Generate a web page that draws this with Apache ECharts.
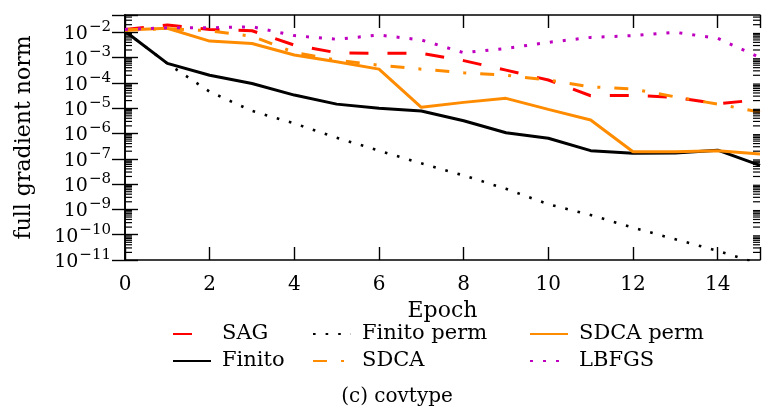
<!DOCTYPE html>
<html>
<head>
<meta charset="utf-8">
<script src="https://cdn.jsdelivr.net/npm/echarts@6/dist/echarts.min.js"></script>
<style>
  html, body { margin: 0; padding: 0; background: #fff; }
  #chart { width: 763px; height: 412px; }
</style>
</head>
<body>
<div id="chart"></div>
<script>
// Epochs on the x axis
const epochs = [0, 1, 2, 3, 4, 5, 6, 7, 8, 9, 10, 11, 12, 13, 14, 15];

// Full gradient norm per epoch for each method
const sag        = [0.013, 0.0195, 0.013, 0.0115, 3.1e-3, 1.56e-3, 1.47e-3, 1.47e-3, 7.6e-4, 3.2e-4, 1.3e-4, 3.1e-5, 3.2e-5, 2.7e-5, 1.48e-5, 2.2e-5];
const finito     = [0.011, 5.9e-4, 2.0e-4, 9.5e-5, 3.3e-5, 1.45e-5, 1.0e-5, 7.8e-6, 3.2e-6, 1.07e-6, 6.5e-7, 2.1e-7, 1.65e-7, 1.7e-7, 2.2e-7, 5.5e-8];
const finitoPerm = [0.011, 5.9e-4, 4.5e-5, 7.8e-6, 2.5e-6, 6.8e-7, 2.1e-7, 6.6e-8, 2.2e-8, 6.5e-9, 1.6e-9, 6.0e-10, 1.9e-10, 6.6e-11, 2.3e-11, 7e-12];
const sdca       = [0.012, 0.014, 0.0115, 7e-3, 1.6e-3, 8e-4, 5e-4, 3.5e-4, 2.5e-4, 2e-4, 1.3e-4, 7e-5, 5.7e-5, 2.8e-5, 1.45e-5, 7e-6];
const sdcaPerm   = [0.0123, 0.0144, 4.5e-3, 3.6e-3, 1.27e-3, 6.9e-4, 3.5e-4, 1.08e-5, 1.7e-5, 2.45e-5, 9e-6, 3.4e-6, 1.9e-7, 1.9e-7, 2.1e-7, 1.55e-7];
const lbfgs      = [0.013, 0.015, 0.015, 0.0166, 7.4e-3, 5.3e-3, 7.8e-3, 5e-3, 1.56e-3, 2.3e-3, 4e-3, 6.3e-3, 7.4e-3, 1e-2, 5.8e-3, 1e-3];

// Axis ranges and tick labels
const xMin = 0, xMax = 15, xStep = 2;
const yMin = 1e-11, yMax = 0.0483;
const legendCol1 = ['SAG', 'Finito'];
const legendCol2 = ['Finito perm', 'SDCA'];
const legendCol3 = ['SDCA perm', 'LBFGS'];
const caption = '(c) covtype';

const FONT = 'DejaVu Serif';
const ORANGE = '#ff8c00';
const MAGENTA = '#bf00bf';

const pairs = arr => arr.map((v, i) => [epochs[i], v]);

// log-axis minor tick positions (2..9 within each decade)
const minorTicks = [];
for (let e = -12; e <= -1; e++) {
  for (let k = 2; k <= 9; k++) {
    const v = k * Math.pow(10, e);
    if (v > yMin && v < yMax) minorTicks.push([0, v]);
  }
}

const chart = echarts.init(document.getElementById('chart'), null, { renderer: 'canvas' });

const axisLine = { show: true, lineStyle: { color: '#000', width: 1.6 } };
const majorTick = { show: true, inside: true, length: 13, lineStyle: { color: '#000', width: 1.4 } };

function yLabel(v) {
  const e = Math.log10(v);
  const r = Math.round(e);
  if (Math.abs(e - r) > 1e-6) return '';
  return '{b|10}{s|\u2212' + (-r) + '}';
}

const legendBase = {
  orient: 'vertical',
  top: 321,
  padding: 0,
  itemGap: 1,
  itemWidth: 38,
  itemHeight: 14,
  itemStyle: { color: 'rgba(0,0,0,0)', opacity: 0, borderWidth: 0 },
  textStyle: { fontFamily: FONT, fontSize: 21, color: '#000', lineHeight: 26, padding: [0, 0, 0, 6] }
};

function lineSeries(name, data, color, type, width) {
  return {
    name: name,
    type: 'line',
    data: pairs(data),
    symbol: 'none',
    showSymbol: false,
    xAxisIndex: 0,
    yAxisIndex: 0,
    lineStyle: { color: color, width: width, type: type, cap: 'butt' },
    itemStyle: { color: color },
    emphasis: { disabled: true },
    z: 2
  };
}

const option = {
  animation: false,
  backgroundColor: '#fff',
  grid: { left: 125, top: 15, width: 644, height: 245, containLabel: false },
  xAxis: [
    {
      type: 'value', min: xMin, max: xMax, interval: xStep, position: 'bottom',
      axisLine: axisLine, axisTick: majorTick, splitLine: { show: false },
      axisLabel: { fontFamily: FONT, fontSize: 20, color: '#000', margin: 15,
        formatter: v => (v % xStep === 0 ? String(v) : '') },
      name: 'Epoch', nameLocation: 'middle', nameGap: 31,
      nameTextStyle: { fontFamily: FONT, fontSize: 22, color: '#000' }
    },
    {
      type: 'value', min: xMin, max: xMax, interval: xStep, position: 'top',
      axisLine: axisLine, axisTick: majorTick, splitLine: { show: false },
      axisLabel: { show: false }
    }
  ],
  yAxis: [
    {
      type: 'log', logBase: 10, min: yMin, max: yMax, splitNumber: 10, position: 'left',
      axisLine: axisLine, axisTick: majorTick, splitLine: { show: false },
      minorTick: { show: false },
      axisLabel: {
        margin: 14, formatter: yLabel, color: '#000',
        showMinLabel: true, showMaxLabel: true, hideOverlap: false,
        rich: {
          b: { fontFamily: FONT, fontSize: 19, color: '#000', padding: [4, 0, 0, 0] },
          s: { fontFamily: FONT, fontSize: 15, color: '#000', padding: [0, 0, 10, 1] }
        }
      },
      name: 'full gradient norm', nameLocation: 'middle', nameRotate: 90, nameGap: 90,
      nameTextStyle: { fontFamily: FONT, fontSize: 22, color: '#000' }
    },
    {
      type: 'log', logBase: 10, min: yMin, max: yMax, splitNumber: 10, position: 'right',
      axisLine: axisLine, axisTick: majorTick, splitLine: { show: false },
      minorTick: { show: false }, axisLabel: { show: false }
    }
  ],
  legend: [
    Object.assign({}, legendBase, { left: 172, data: legendCol1 }),
    Object.assign({}, legendBase, { left: 312, data: legendCol2 }),
    Object.assign({}, legendBase, { left: 529, data: legendCol3 })
  ],
  graphic: [
    {
      type: 'text', x: 397, y: 397, silent: true,
      style: { text: caption, font: '20px "DejaVu Serif"', fill: '#000', align: 'center', verticalAlign: 'middle' }
    }
  ],
  series: [
    lineSeries('SAG', sag, '#ff0000', [19, 19], 3),
    lineSeries('Finito', finito, '#000000', 'solid', 3),
    lineSeries('Finito perm', finitoPerm, '#000000', [2.6, 10], 2.6),
    lineSeries('SDCA', sdca, ORANGE, [14, 14, 3, 14], 3),
    lineSeries('SDCA perm', sdcaPerm, ORANGE, 'solid', 3),
    lineSeries('LBFGS', lbfgs, MAGENTA, [3, 10], 3),
    {
      // minor ticks of the log y axis, drawn inside on both sides of the frame
      type: 'custom',
      xAxisIndex: 0,
      yAxisIndex: 0,
      silent: true,
      z: 5,
      clip: false,
      data: minorTicks,
      renderItem: function (params, api) {
        const v = api.value(1);
        const pl = api.coord([xMin, v]);
        const pr = api.coord([xMax, v]);
        const st = { stroke: '#000', lineWidth: 1.2 };
        return {
          type: 'group',
          children: [
            { type: 'line', shape: { x1: pl[0], y1: pl[1], x2: pl[0] + 7, y2: pl[1] }, style: st },
            { type: 'line', shape: { x1: pr[0] - 7, y1: pr[1], x2: pr[0], y2: pr[1] }, style: st }
          ]
        };
      }
    }
  ]
};

chart.setOption(option);
</script>
</body>
</html>
